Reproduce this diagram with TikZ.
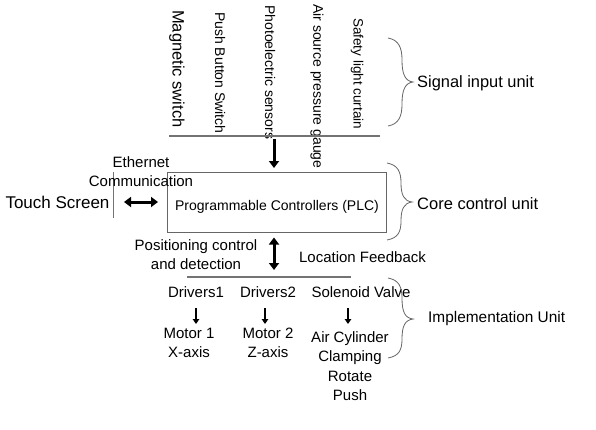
\documentclass[tikz,border=0pt]{standalone}
\usepackage{fontspec}
\setmainfont{Liberation Sans}
\usetikzlibrary{arrows.meta}
\tikzset{
  txt/.style={inner sep=0pt, align=center, font=\fontsize{15}{19.5}\selectfont},
  vtxt/.style={inner sep=0pt, rotate=-90, anchor=west, font=\fontsize{14}{16}\selectfont},
  grayline/.style={draw=black!55, line width=1.1pt},
  bracepath/.style={draw=black!60, line width=0.8pt},
  bigarrow/.style={line width=3pt, -{Triangle[length=7pt,width=10pt]}},
  bigdarrow/.style={line width=3pt, {Triangle[length=7pt,width=10pt]}-{Triangle[length=7pt,width=10pt]}},
  smallarrow/.style={line width=1.8pt, -{Triangle[length=5pt,width=6.5pt]}}
}
\begin{document}
\begin{tikzpicture}[x=1pt,y=-1pt]
\useasboundingbox[fill=white] (0,0) rectangle (596,429);

% signal inputs
\node[vtxt, font=\fontsize{16.5}{18}\selectfont] (mag) at (177,10) {Magnetic switch};
\node[vtxt] (push) at (220,12) {Push Button Switch};
\node[vtxt] (photo) at (270,5) {Photoelectric sensors};
\node[vtxt] (air) at (317,4) {Air source pressure gauge};
\node[vtxt, font=\fontsize{13.5}{16}\selectfont] (safe) at (357,18) {Safety light curtain};

\coordinate (sl) at (169,136);
\coordinate (sr) at (380,136);
\draw[grayline] (sl) -- (sr);

% PLC box
\node[draw=black!60, line width=1pt, minimum width=219pt, minimum height=60pt, inner sep=0pt] (plc) at (276.5,202) {};
\node[txt, font=\fontsize{14}{16}\selectfont] (plct) at (277,207) {Programmable Controllers (PLC)};

\coordinate (sa) at (274,139);
\draw[bigarrow] (sa) -- (274,168);

% left side
\node[txt, font=\fontsize{17}{20}\selectfont] (touch) at (57.5,202) {Touch Screen};
\coordinate (vt) at (113,172);
\coordinate (vb) at (113,218);
\draw[draw=black!55, line width=0.8pt] (vt) -- (vb);
\node[txt] (eth) at (141,171.5) {Ethernet\\Communication};
\coordinate (ha) at (124,202);
\coordinate (hb) at (158,202);
\draw[bigdarrow] (ha) -- (hb);

% middle
\coordinate (bl) at (187,277);
\coordinate (br) at (351,277);
\draw[grayline] (bl) -- (br);
\draw[bigdarrow] (plc.south -| 274,0) ++(0,5) -- (274,270);
\node[txt] (pos) at (196,254.5) {Positioning control\\and detection};
\node[txt] (loc) at (362.5,257) {Location Feedback};

% implementation
\node[txt] (d1) at (196,292) {Drivers1};
\node[txt] (d2) at (268,292) {Drivers2};
\node[txt] (sv) at (361,292) {Solenoid Valve};
\node[txt] (m1) at (189,343) {Motor 1\\X-axis};
\node[txt] (m2) at (268,343) {Motor 2\\Z-axis};
\node[txt] (ac) at (350,366) {Air Cylinder\\Clamping\\Rotate\\Push};
\coordinate (a1) at (196,308);
\coordinate (a2) at (265,308);
\coordinate (a3) at (348,308);
\draw[smallarrow] (a1) -- (196,324);
\draw[smallarrow] (a2) -- (265,324);
\draw[smallarrow] (a3) -- (348,324);

% braces
\draw[bracepath] (388,38) .. controls (399,40) and (402,48) .. (402,60)
  .. controls (402,74) and (405,81) .. (413,82)
  .. controls (405,83) and (402,90) .. (402,104)
  .. controls (402,116) and (399,124) .. (388,126);
\draw[bracepath] (387,163) .. controls (398,165) and (401,172) .. (401,183)
  .. controls (401,195) and (404,201) .. (412,202)
  .. controls (404,203) and (401,209) .. (401,221)
  .. controls (401,232) and (398,238) .. (387,240);
\draw[bracepath] (388,278) .. controls (399,280) and (402,287) .. (402,298)
  .. controls (402,312) and (405,318) .. (413,319)
  .. controls (405,320) and (402,326) .. (402,339)
  .. controls (402,350) and (399,356) .. (388,358);

\node[txt, anchor=west, font=\fontsize{16.4}{19}\selectfont] (sig) at (417,83) {Signal input unit};
\node[txt, anchor=west, font=\fontsize{16.5}{19}\selectfont] (core) at (417,204) {Core control unit};
\node[txt, anchor=west, font=\fontsize{15.4}{19}\selectfont] (impl) at (428,319) {Implementation Unit};
\end{tikzpicture}
\end{document}
